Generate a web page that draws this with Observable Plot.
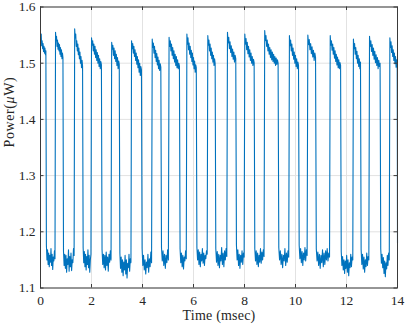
<!DOCTYPE html>
<html>
<head>
<meta charset="utf-8">
<script src="https://cdn.jsdelivr.net/npm/d3@7"></script>
<script src="https://cdn.jsdelivr.net/npm/@observablehq/plot@0.6"></script>
<style>
  html, body { margin: 0; padding: 0; background: #fff; overflow: hidden; }
  #chart { width: 407px; height: 330px; }
  #chart svg text { font-family: "Liberation Serif", "Times New Roman", serif; }
</style>
</head>
<body>
<div id="chart"></div>
<script>
// Tick labels
const xTicks = [0, 2, 4, 6, 8, 10, 12, 14];
const yTicks = [1.1, 1.2, 1.3, 1.4, 1.5, 1.6];

// Switching times (msec): alternating fall / rise, starting high at t = 0
const edges = [0.22, 0.58, 0.89, 1.33, 1.66, 1.99, 2.40, 2.78, 3.10, 3.56, 3.97, 4.37,
  4.73, 5.03, 5.46, 5.73, 6.12, 6.55, 6.86, 7.32, 7.67, 8.00, 8.39, 8.78,
  9.33, 9.75, 10.13, 10.47, 10.80, 11.35, 11.78, 12.26, 12.56, 12.89, 13.33, 13.69];

const startValue = 1.548;   // power at t = 0
const endValue = 1.18;      // power at t = 14 (falling edge)

// Power (µW) samples read within each high level
const highLevels = [
  [1.545,1.552,1.531,1.540,1.526,1.535,1.521,1.530,1.518,1.527,1.515,1.522],
  [1.555,1.540,1.548,1.530,1.541,1.525,1.536,1.522,1.533,1.516,1.528,1.512,1.524,1.508,1.518,1.510],
  [1.561,1.545,1.552,1.530,1.540,1.522,1.534,1.515,1.527,1.508,1.520,1.500,1.512,1.492,1.505,1.495],
  [1.545,1.532,1.540,1.522,1.534,1.516,1.530,1.510,1.524,1.505,1.519,1.500,1.514,1.494,1.508,1.490,1.503,1.497],
  [1.537,1.525,1.532,1.514,1.527,1.508,1.522,1.503,1.516,1.496,1.510,1.490,1.504,1.498],
  [1.540,1.526,1.535,1.518,1.530,1.512,1.524,1.505,1.518,1.498,1.512,1.492,1.506,1.484,1.500,1.478,1.494,1.488],
  [1.543,1.528,1.536,1.518,1.530,1.510,1.523,1.503,1.517,1.497,1.511,1.490,1.505,1.487,1.499,1.493],
  [1.546,1.530,1.540,1.522,1.534,1.514,1.528,1.508,1.522,1.502,1.516,1.496,1.512,1.492,1.506,1.490,1.500,1.495],
  [1.552,1.534,1.545,1.524,1.536,1.516,1.530,1.510,1.523,1.503,1.518,1.497,1.510,1.490,1.504,1.484,1.497,1.492],
  [1.549,1.532,1.541,1.522,1.534,1.514,1.527,1.508,1.520,1.502,1.514,1.496,1.508,1.500],
  [1.555,1.536,1.546,1.526,1.538,1.519,1.531,1.512,1.525,1.507,1.520,1.502,1.514,1.508],
  [1.552,1.534,1.544,1.524,1.537,1.517,1.530,1.511,1.524,1.505,1.518,1.500,1.512,1.496,1.507,1.501],
  [1.558,1.540,1.549,1.530,1.541,1.522,1.534,1.516,1.528,1.510,1.524,1.506,1.520,1.503,1.516,1.500,1.512,1.496,1.509,1.498,1.506,1.500],
  [1.549,1.531,1.541,1.522,1.534,1.514,1.527,1.507,1.520,1.500,1.514,1.494,1.508,1.490,1.502,1.496],
  [1.550,1.533,1.542,1.524,1.535,1.517,1.529,1.511,1.523,1.505,1.518,1.510],
  [1.549,1.532,1.540,1.523,1.534,1.516,1.528,1.509,1.522,1.503,1.516,1.497,1.511,1.492,1.506,1.490,1.501,1.496],
  [1.543,1.526,1.535,1.516,1.528,1.508,1.521,1.500,1.514,1.494,1.508,1.490,1.502],
  [1.548,1.530,1.540,1.521,1.533,1.514,1.527,1.507,1.521,1.501,1.515,1.496,1.510,1.490,1.505,1.494,1.500],
  [1.545,1.528,1.538,1.519,1.531,1.512,1.524,1.505,1.518,1.499,1.512,1.493,1.506,1.490]
];

// Power (µW) samples read within each low level
const lowLevels = [
  [1.176,1.150,1.168,1.142,1.162,1.138,1.158,1.146,1.170,1.140,1.160,1.133,1.155,1.148,1.166,1.152],
  [1.165,1.140,1.160,1.135,1.158,1.128,1.152,1.142,1.168,1.130,1.156,1.138,1.162,1.131,1.150,1.145,1.170,1.158],
  [1.172,1.145,1.165,1.138,1.160,1.132,1.156,1.142,1.168,1.136,1.158,1.128,1.150,1.160],
  [1.168,1.142,1.160,1.136,1.158,1.132,1.164,1.140,1.155,1.130,1.160,1.146,1.166,1.150],
  [1.162,1.135,1.155,1.128,1.150,1.122,1.146,1.132,1.158,1.125,1.150,1.118,1.144,1.136,1.160,1.130,1.152,1.145],
  [1.170,1.140,1.158,1.132,1.150,1.125,1.146,1.136,1.160,1.128,1.152,1.138,1.164,1.145],
  [1.172,1.148,1.166,1.140,1.160,1.135,1.158,1.145,1.168,1.150],
  [1.170,1.145,1.162,1.138,1.158,1.134,1.155,1.148,1.166,1.152],
  [1.172,1.150,1.168,1.142,1.164,1.138,1.160,1.148,1.170,1.144,1.162,1.140,1.158,1.152,1.166,1.160],
  [1.170,1.146,1.165,1.140,1.160,1.136,1.158,1.148,1.172,1.142,1.162,1.138,1.166,1.150,1.170,1.156],
  [1.176,1.150,1.168,1.140,1.160,1.135,1.158,1.146,1.166,1.142,1.162,1.155],
  [1.170,1.148,1.166,1.142,1.162,1.138,1.158,1.146,1.170,1.144,1.164,1.150,1.168,1.156],
  [1.172,1.150,1.166,1.142,1.160,1.136,1.158,1.148,1.170,1.140,1.162,1.146,1.166,1.155],
  [1.176,1.152,1.170,1.145,1.165,1.140,1.162,1.150,1.172,1.148,1.168,1.158],
  [1.170,1.148,1.164,1.140,1.160,1.135,1.158,1.145,1.168,1.138,1.162,1.142,1.166,1.150,1.170,1.148,1.162,1.155],
  [1.165,1.140,1.156,1.132,1.150,1.126,1.148,1.135,1.158,1.128,1.150,1.122,1.145,1.136,1.160,1.138,1.155,1.150],
  [1.168,1.142,1.160,1.134,1.155,1.128,1.150,1.138,1.162,1.140,1.156,1.150],
  [1.170,1.144,1.160,1.136,1.154,1.126,1.148,1.120,1.145,1.134,1.158,1.140,1.162,1.150]
];

// Build the series: samples spread evenly inside each level
const bounds = [0, ...edges, 14];
const series = [{t: 0, p: startValue}];
for (let k = 0; k < bounds.length - 1; k++) {
  const a = bounds[k], b = bounds[k + 1];
  const vals = k % 2 === 0 ? highLevels[k / 2] : lowLevels[(k - 1) / 2];
  const n = vals.length;
  vals.forEach((p, i) => series.push({t: a + (b - a) * (i + 0.5) / n, p}));
}
series.push({t: 14, p: endValue});

const W = 407, H = 330;
const mL = 40, mR = 10, mT = 6.5, mB = 42.5;
const fw = W - mL - mR, fh = H - mT - mB;
const tl = 3.5;
const axisColor = "#262626";

const chart = Plot.plot({
  width: W, height: H,
  marginLeft: mL, marginRight: mR, marginTop: mT, marginBottom: mB,
  style: {fontFamily: "'Liberation Serif', 'Times New Roman', serif", fontSize: "13.5px", color: axisColor, background: "#fff"},
  x: {domain: [0, 14]},
  y: {domain: [1.1, 1.6]},
  marks: [
    Plot.gridX(xTicks, {stroke: "#e2e2e2", strokeOpacity: 1}),
    Plot.gridY(yTicks, {stroke: "#e2e2e2", strokeOpacity: 1}),
    Plot.line(series, {x: "t", y: "p", stroke: "#0072BD", strokeWidth: 1.1}),
    Plot.frame({stroke: "#3a3a3a", strokeWidth: 1}),
    Plot.tickX(xTicks, {x: d => d, insetTop: fh - tl, stroke: "#3a3a3a"}),
    Plot.tickX(xTicks, {x: d => d, insetBottom: fh - tl, stroke: "#3a3a3a"}),
    Plot.tickY(yTicks, {y: d => d, insetRight: fw - tl, stroke: "#3a3a3a"}),
    Plot.tickY(yTicks, {y: d => d, insetLeft: fw - tl, stroke: "#3a3a3a"}),
    Plot.axisX(xTicks, {tickSize: 0, tickPadding: 7.5, label: null, fontSize: 13.5, tickFormat: d => String(d)}),
    Plot.axisY(yTicks, {tickSize: 0, tickPadding: 5, label: null, fontSize: 13.5, tickFormat: d3.format(".1f")}),
    Plot.text(["Time (msec)"], {text: d => d, frameAnchor: "bottom", dy: 31.5, fontSize: 14, fill: axisColor}),
    Plot.text(["Power(μW)"], {text: d => d, frameAnchor: "left", dx: -31, rotate: -90, fontSize: 14, fill: axisColor})
  ]
});

document.getElementById("chart").appendChild(chart);

// label spacing and italic mu in the y label
d3.select(chart).selectAll("text").each(function () {
  if (this.textContent === "Time (msec)") {
    d3.select(this).style("letter-spacing", "0.2px");
  }
  if (this.textContent === "Power(μW)") {
    const t = d3.select(this);
    t.style("letter-spacing", "0.6px");
    t.text(null);
    t.append("tspan").text("Power(");
    t.append("tspan").attr("font-style", "italic").text("μ");
    t.append("tspan").text("W)");
  }
});
</script>
</body>
</html>
